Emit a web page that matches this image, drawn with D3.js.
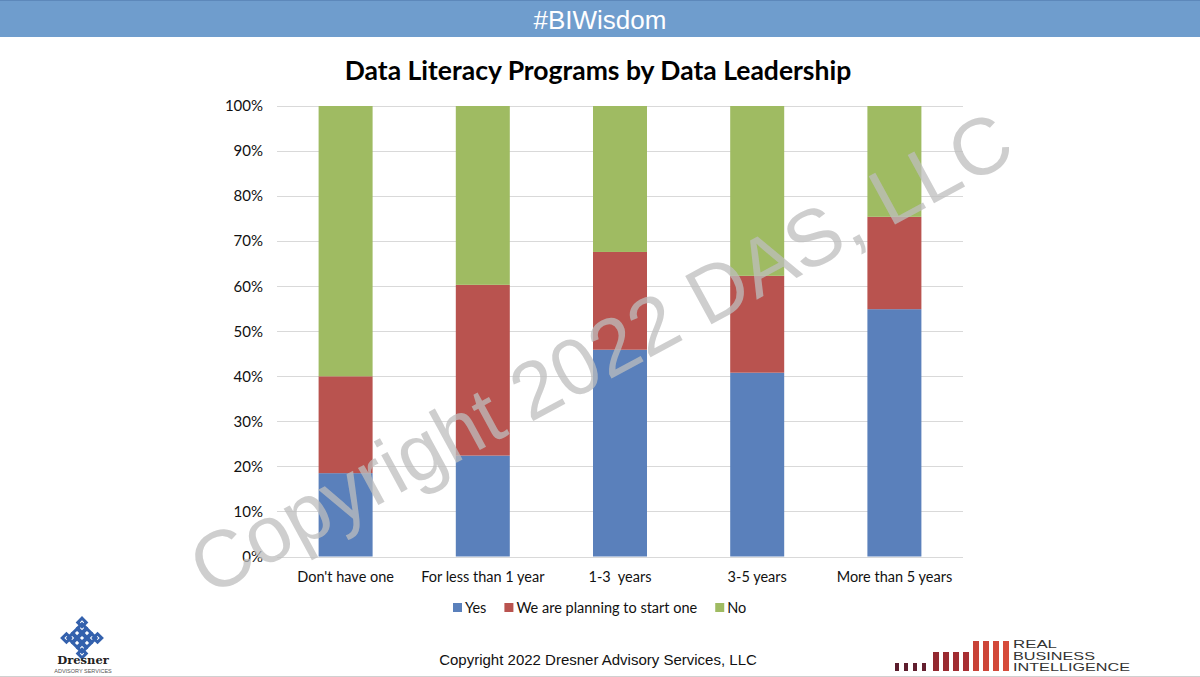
<!DOCTYPE html>
<html lang="en">
<head>
<meta charset="utf-8">
<title>Data Literacy Programs by Data Leadership</title>
<script src="https://d3js.org/d3.v7.min.js"></script>
<style>
  body { margin: 0; background: #fff; }
  svg { display: block; }
</style>
</head>
<body>
<script>
// chart values (percent of respondents)
var categories = ["Don't have one", "For less than 1 year", "1-3  years", "3-5 years", "More than 5 years"];
var seriesNames = ["Yes", "We are planning to start one", "No"];
var yes = [18.5, 22.4, 45.9, 40.8, 54.9];
var planning = [21.5, 37.9, 21.7, 21.5, 20.5];
var no = [60.0, 39.7, 32.4, 37.7, 24.6];
var yTicks = [0, 10, 20, 30, 40, 50, 60, 70, 80, 90, 100];

var colors = ["#5a80bb", "#b9534f", "#9fbb62"];
var W = 1200, H = 677;

var svg = d3.select("body").append("svg")
  .attr("width", W)
  .attr("height", H);

// header band
svg.append("rect")
  .attr("x", 0).attr("y", 0)
  .attr("width", W).attr("height", 37)
  .attr("fill", "#6f9dcd");
svg.append("rect")
  .attr("x", 0).attr("y", 0)
  .attr("width", W).attr("height", 1)
  .attr("fill", "#5d88ba");
svg.append("text")
  .attr("x", 600).attr("y", 29)
  .attr("text-anchor", "middle")
  .style("font-family", "'Liberation Sans', Arial, sans-serif")
  .style("font-size", "26px")
  .attr("fill", "#fff")
  .text("#BIWisdom");

// title
svg.append("text")
  .attr("x", 598).attr("y", 80)
  .attr("text-anchor", "middle")
  .style("font-family", "Lato, sans-serif")
  .style("font-weight", "bold")
  .style("font-size", "26.5px")
  .attr("fill", "#000")
  .text("Data Literacy Programs by Data Leadership");

var x = d3.scaleBand()
  .domain(categories)
  .range([277, 963])
  .padding(0);
var barW = 54;

var y = d3.scaleLinear()
  .domain([0, 100])
  .range([556.5, 106]);

// gridlines
svg.append("g")
  .selectAll("line")
  .data(yTicks)
  .enter()
  .append("line")
  .attr("x1", 277).attr("x2", 963)
  .attr("y1", function(d){ return Math.round(y(d)) + 0.5; })
  .attr("y2", function(d){ return Math.round(y(d)) + 0.5; })
  .attr("stroke", "#d9d9d9")
  .attr("stroke-width", 1);

// y axis labels
var yAxis = svg.append("g")
  .attr("transform", "translate(277,0)")
  .call(d3.axisLeft(y).tickValues(yTicks).tickSize(0).tickPadding(14)
    .tickFormat(function(d){ return d + "%"; }));
yAxis.select(".domain").remove();
yAxis.selectAll("text")
  .style("font-family", "Lato, sans-serif")
  .style("font-size", "15px")
  .attr("fill", "#111");

// x axis labels
var xAxis = svg.append("g")
  .attr("transform", "translate(0,556.5)")
  .call(d3.axisBottom(x).tickSize(0).tickPadding(15));
xAxis.select(".domain").remove();
xAxis.selectAll("text")
  .style("font-family", "Lato, sans-serif")
  .style("font-size", "14.5px")
  .style("white-space", "pre")
  .attr("fill", "#111");

// stacked bars
var rows = categories.map(function(c, i){
  return { cat: c, yes: yes[i], planning: planning[i], no: no[i] };
});
var stack = d3.stack().keys(["yes", "planning", "no"]);
var layers = stack(rows);

svg.append("g")
  .selectAll("g")
  .data(layers)
  .enter()
  .append("g")
  .attr("fill", function(d, i){ return colors[i]; })
  .selectAll("rect")
  .data(function(d){ return d; })
  .enter()
  .append("rect")
  .attr("x", function(d){ return x(d.data.cat) + (x.bandwidth() - barW) / 2; })
  .attr("y", function(d){ return y(d[1]); })
  .attr("width", barW)
  .attr("height", function(d){ return y(d[0]) - y(d[1]); });

// legend
var legend = svg.append("g").attr("transform", "translate(0,608)");
var lx = 453;
seriesNames.forEach(function(name, i){
  legend.append("rect")
    .attr("x", lx).attr("y", -5)
    .attr("width", 9).attr("height", 9)
    .attr("fill", colors[i]);
  var t = legend.append("text")
    .attr("x", lx + 12).attr("y", 5)
    .style("font-family", "Lato, sans-serif")
    .style("font-size", "14.5px")
    .attr("fill", "#111")
    .text(name);
  lx += 12 + t.node().getComputedTextLength() + 18;
});

// watermark
svg.append("text")
  .attr("transform", "translate(600,352) rotate(-28.5)")
  .attr("text-anchor", "middle")
  .attr("dy", "0.36em")
  .style("font-family", "'Liberation Sans', Arial, sans-serif")
  .style("font-size", "80px")
  .attr("fill", "#bdbdbd")
  .attr("fill-opacity", 0.75)
  .text("Copyright 2022 DAS, LLC");

// footer
svg.append("text")
  .attr("x", 598).attr("y", 665)
  .attr("text-anchor", "middle")
  .style("font-family", "'Liberation Sans', Arial, sans-serif")
  .style("font-size", "15px")
  .attr("fill", "#111")
  .text("Copyright 2022 Dresner Advisory Services, LLC");

svg.append("line")
  .attr("x1", 0).attr("x2", W)
  .attr("y1", 676.5).attr("y2", 676.5)
  .attr("stroke", "#d0d0d0");

// Dresner logo (rough knot)
var knot = svg.append("g")
  .attr("transform", "translate(82,638) rotate(45)");
[-1, 0, 1].forEach(function(r){
  [-1, 0, 1].forEach(function(c){
    knot.append("rect")
      .attr("x", c * 7 - 3).attr("y", r * 7 - 3)
      .attr("width", 6).attr("height", 6)
      .attr("fill", "none")
      .attr("stroke", "#3461ad")
      .attr("stroke-width", 3);
  });
});
[[-14, -14], [8, -14], [-14, 8], [8, 8]].forEach(function(p){
  knot.append("rect")
    .attr("x", p[0]).attr("y", p[1])
    .attr("width", 6).attr("height", 6)
    .attr("fill", "none")
    .attr("stroke", "#3461ad")
    .attr("stroke-width", 3);
});
svg.append("text")
  .attr("x", 83).attr("y", 664)
  .attr("text-anchor", "middle")
  .style("font-family", "'DejaVu Serif', serif")
  .style("font-weight", "bold")
  .style("font-size", "11.5px")
  .attr("fill", "#222")
  .text("Dresner");
svg.append("text")
  .attr("x", 83).attr("y", 673)
  .attr("text-anchor", "middle")
  .style("font-family", "'Liberation Sans', Arial, sans-serif")
  .style("font-size", "5.5px")
  .attr("fill", "#555")
  .text("ADVISORY SERVICES");

// Real Business Intelligence logo
var rbi = svg.append("g");
var logoBars = [
  [895, 8, "#5b1c2c"], [904, 8, "#5e1d2d"], [913, 8, "#611e2e"], [922, 8, "#641f2f"],
  [933, 19, "#93282f"], [943, 19, "#9a2a30"], [953, 19, "#a12c31"], [963, 19, "#a82e32"],
  [973, 30, "#c84237"], [983, 30, "#cd4538"], [993, 30, "#d24839"], [1003, 30, "#d64b3a"]
];
rbi.selectAll("rect")
  .data(logoBars)
  .enter()
  .append("rect")
  .attr("x", function(d){ return d[0]; })
  .attr("y", function(d){ return 671 - d[1]; })
  .attr("width", function(d, i){ return i < 4 ? 4 : 6; })
  .attr("height", function(d){ return d[1]; })
  .attr("fill", function(d){ return d[2]; });
[["REAL", 44], ["BUSINESS", 82], ["INTELLIGENCE", 117]].forEach(function(s, i){
  rbi.append("text")
    .attr("x", 1013).attr("y", 648 + i * 11.5)
    .attr("textLength", s[1])
    .attr("lengthAdjust", "spacingAndGlyphs")
    .style("font-family", "'Liberation Sans', Arial, sans-serif")
    .style("font-size", "11px")
    .attr("fill", "#333")
    .text(s[0]);
});
</script>
</body>
</html>
